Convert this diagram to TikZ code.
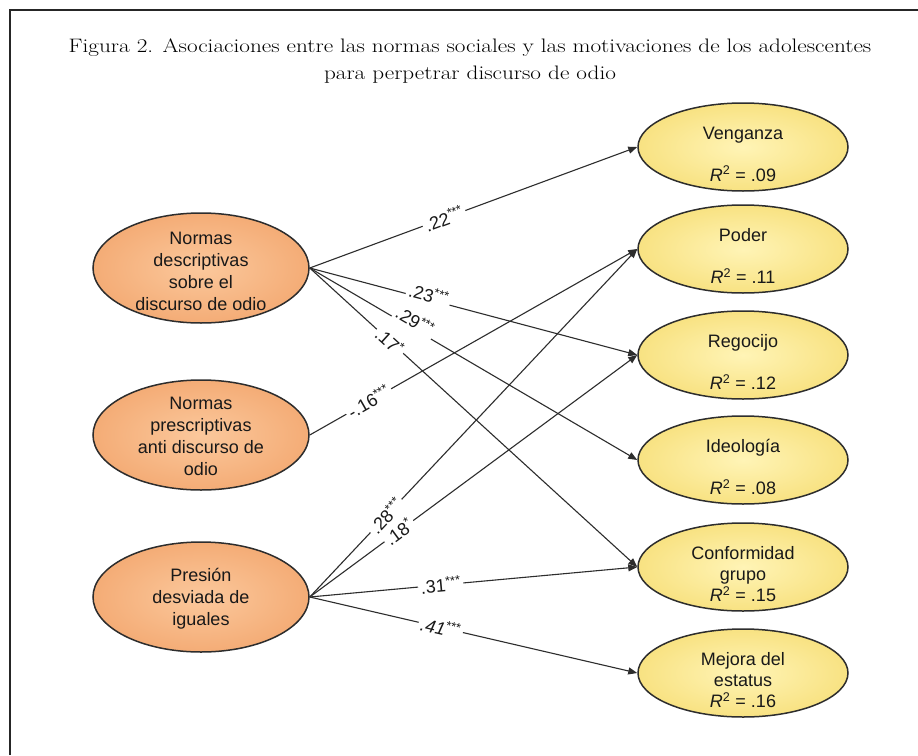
\documentclass[tikz,border=0pt]{standalone}
\usepackage{fontspec}
\newfontfamily\arial{Liberation Sans}
\usetikzlibrary{arrows.meta,shapes.geometric}
\definecolor{orangein}{RGB}{251,200,156}
\definecolor{orangeout}{RGB}{244,172,118}
\definecolor{yellowin}{RGB}{255,244,182}
\definecolor{yellowout}{RGB}{248,226,130}
\definecolor{edgegray}{RGB}{45,45,45}
\definecolor{txt}{RGB}{25,25,25}
\begin{document}
\begin{tikzpicture}[x=1pt,y=-1pt,
  leftell/.style={ellipse, draw=edgegray, line width=1.5pt, shading=radial, inner color=orangein, outer color=orangeout,
    minimum width=216pt, minimum height=110pt, inner sep=0pt},
  rightell/.style={ellipse, draw=edgegray, line width=1.5pt, shading=radial, inner color=yellowin, outer color=yellowout,
    minimum width=210pt, minimum height=88pt, inner sep=0pt},
  lbl/.style={font=\arial\fontsize{18}{22}\selectfont, text=txt, align=center, inner sep=0pt},
  rlbl/.style={font=\arial\fontsize{18}{21}\selectfont, text=txt, align=center, inner sep=0pt},
  titletext/.style={font=\fontsize{19.5}{24}\selectfont, text=black, inner sep=0pt},
  conn/.style={draw=edgegray, line width=1.1pt, -{Triangle[length=9pt,width=7pt]}},
  coef/.style={font=\arial\fontsize{18}{22}\selectfont, text=txt, fill=white, inner sep=2.5pt, sloped}]

\useasboundingbox (0,0) rectangle (918,755);
\fill[white] (0,0) rectangle (918,755);
\draw[line width=2pt, draw=black!85] (9.5,755) -- (9.5,10) -- (918,10);

% title
\node[titletext] (t1) at (470,48) {\scalebox{1.19}[1]{Figura 2. Asociaciones entre las normas sociales y las motivaciones de los adolescentes}};
\node[titletext] (t2) at (470,75) {\scalebox{1.19}[1]{para perpetrar discurso de odio}};

% left ellipses
\node[leftell] (n1) at (201,268) {};
\node[leftell] (n2) at (201,435) {};
\node[leftell] (n3) at (201,597) {};
\node[lbl] (n1t) at (201,271) {Normas\\descriptivas\\sobre el\\discurso de odio};
\node[lbl] (n2t) at (201,436) {Normas\\prescriptivas\\anti discurso de\\odio};
\node[lbl] (n3t) at (201,599) {Presión\\desviada de\\iguales};

% right ellipses
\node[rightell] (v) at (743,147) {};
\node[rightell] (p) at (743,249) {};
\node[rightell] (r) at (743,355) {};
\node[rightell] (i) at (743,460) {};
\node[rightell] (c) at (743,567) {};
\node[rightell] (m) at (743,673) {};
\node[rlbl] (vt) at (743,154) {Venganza\\\mbox{}\\\textit{R}\textsuperscript{2} = .09};
\node[rlbl] (pt) at (743,256) {Poder\\\mbox{}\\\textit{R}\textsuperscript{2} = .11};
\node[rlbl] (rt) at (743,362) {Regocijo\\\mbox{}\\\textit{R}\textsuperscript{2} = .12};
\node[rlbl] (it) at (743,467) {Ideología\\\mbox{}\\\textit{R}\textsuperscript{2} = .08};
\node[rlbl] (ct) at (743,574) {Conformidad\\grupo\\\textit{R}\textsuperscript{2} = .15};
\node[rlbl] (mt) at (743,680) {Mejora del\\estatus\\\textit{R}\textsuperscript{2} = .16};

% connectors
\draw[conn] (n1.east) -- node[coef, pos=0.41] {.22\textsuperscript{***}} (v.west);
\draw[conn] (n1.east) -- node[coef, pos=0.36, yshift=5pt] {.23\textsuperscript{***}} (r.west);
\draw[conn] (n1.east) -- node[coef, pos=0.31, yshift=8pt] {.29\textsuperscript{***}} (i.west);
\draw[conn] (n1.east) -- node[coef, pos=0.245] {.17\textsuperscript{*}} (c.west);
\draw[conn] (n2.east) -- node[coef, pos=0.18] {-.16\textsuperscript{***}} (p.west);
\draw[conn] (n3.east) -- node[coef, pos=0.233] {.28\textsuperscript{***}} (p.west);
\draw[conn] (n3.east) -- node[coef, pos=0.272] {.18\textsuperscript{*}} (r.west);
\draw[conn] (n3.east) -- node[coef, pos=0.40] {.31\textsuperscript{***}} (c.west);
\draw[conn] (n3.east) -- node[coef, pos=0.40] {\textit{.41}\textsuperscript{***}} (m.west);
\end{tikzpicture}
\end{document}
